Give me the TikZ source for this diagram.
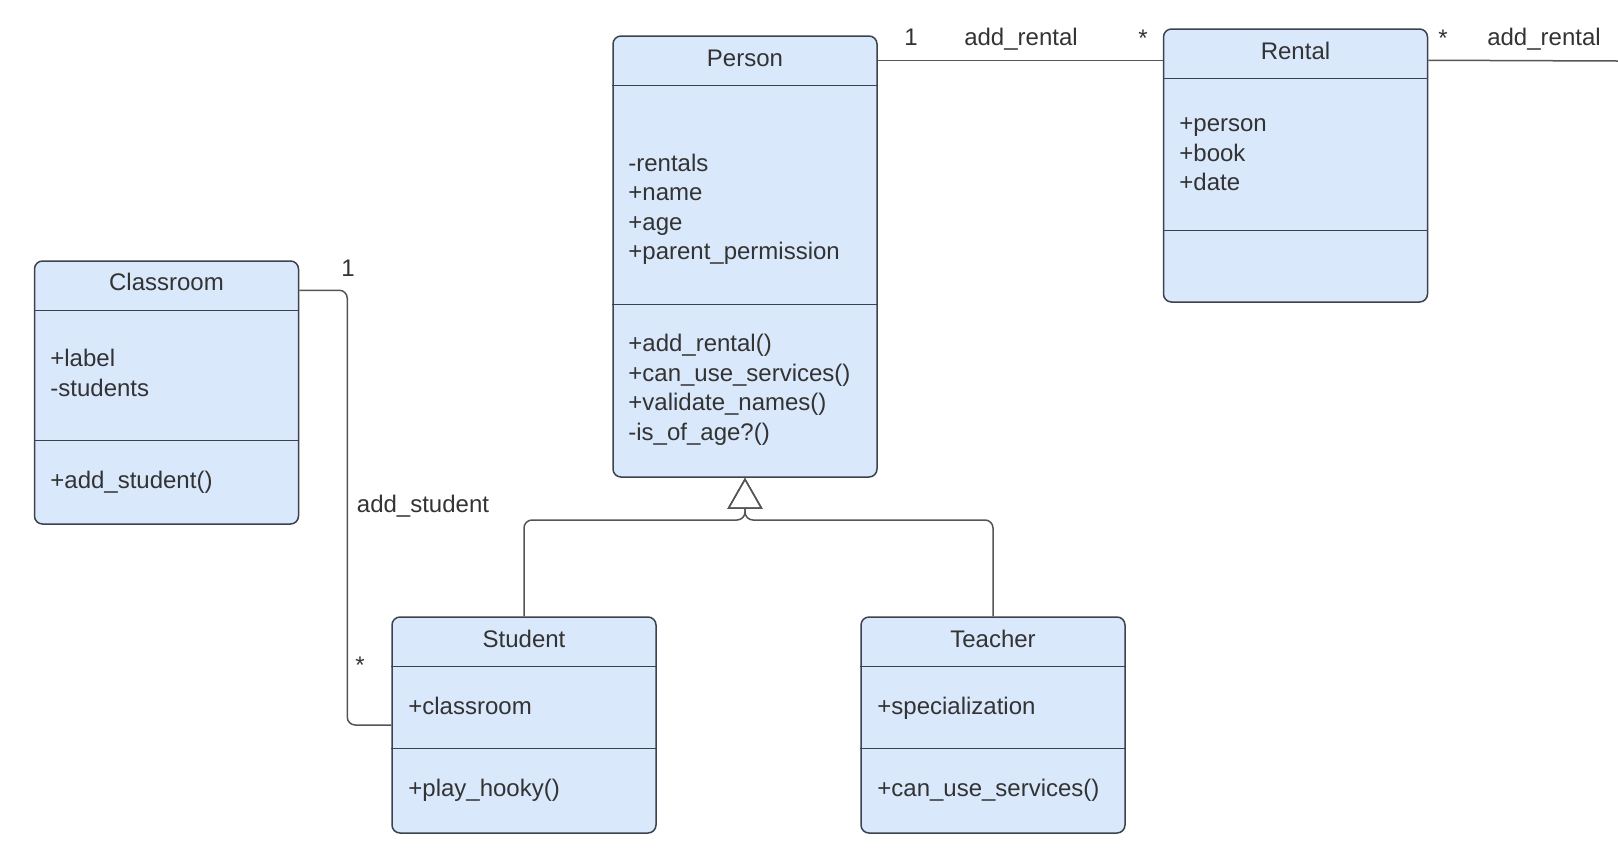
\documentclass[tikz,border=0pt]{standalone}
\usepackage{fontspec}
\setmainfont{Liberation Sans}
\usepackage{xcolor}
\usepackage{tikz}
\usetikzlibrary{arrows.meta}

\definecolor{classfill}{RGB}{218,232,252}
\definecolor{classline}{RGB}{60,66,78}
\definecolor{wireline}{RGB}{85,85,85}
\definecolor{inktext}{RGB}{51,51,51}

\begin{document}
\begin{tikzpicture}
				[x=0.5pt, y=-0.5pt,
				every node/.style = {font=\fontsize{12}{14.75}\selectfont, text=inktext},
				classbox/.style = {draw=classline, fill=classfill, line width=0.75pt, rounded corners=4pt, minimum width=132pt, inner sep=0pt},
				divider/.style = {draw=classline, line width=0.75pt},
				members/.style = {anchor=west, align=left, inner sep=0pt},
				assoc/.style = {draw=wireline, line width=0.75pt},
				generalize/.style = {assoc, rounded corners=4pt, -{Triangle[open, length=15.5pt, width=17.5pt]}}]
				\useasboundingbox (0,0) rectangle (1618,858);
				% Person
				\node[classbox, minimum height=220.5pt] (person) at (745,256.5) {};
				\draw[divider] ([yshift=-25pt]person.north west) -- ([yshift=-25pt]person.north east);
				\draw[divider] ([yshift=-134.5pt]person.north west) -- ([yshift=-134.5pt]person.north east);
				\node (personname) at (745,58) {Person};
				\node[members] (personattr) at (628,209.5) {-rentals\\+name\\+age\\+parent\_permission};
				\node[members] (personops) at (628,390) {+add\_rental()\\+can\_use\_services()\\+validate\_names()\\-is\_of\_age?()};
				% Rental
				\node[classbox, minimum height=136.5pt] (rental) at (1295.5,165.5) {};
				\draw[divider] ([yshift=-25pt]rental.north west) -- ([yshift=-25pt]rental.north east);
				\draw[divider] ([yshift=-101pt]rental.north west) -- ([yshift=-101pt]rental.north east);
				\node (rentalname) at (1295.5,51) {Rental};
				\node[members] (rentalattr) at (1179,154.5) {+person\\+book\\+date};
				% Classroom
				\node[classbox, minimum height=131.5pt] (classroom) at (166.5,392.5) {};
				\draw[divider] ([yshift=-25pt]classroom.north west) -- ([yshift=-25pt]classroom.north east);
				\draw[divider] ([yshift=-90pt]classroom.north west) -- ([yshift=-90pt]classroom.north east);
				\node (classroomname) at (166.5,282) {Classroom};
				\node[members] (classroomattr) at (50,373) {+label\\-students};
				\node[members] (classroomops) at (50,482) {+add\_student()};
				% Student
				\node[classbox, minimum height=108pt] (student) at (524,725) {};
				\draw[divider] ([yshift=-25pt]student.north west) -- ([yshift=-25pt]student.north east);
				\draw[divider] ([yshift=-66pt]student.north west) -- ([yshift=-66pt]student.north east);
				\node (studentname) at (524,639) {Student};
				\node[members] (studentattr) at (408,706) {+classroom};
				\node[members] (studentops) at (408,790) {+play\_hooky()};
				% Teacher
				\node[classbox, minimum height=108pt] (teacher) at (993,725) {};
				\draw[divider] ([yshift=-25pt]teacher.north west) -- ([yshift=-25pt]teacher.north east);
				\draw[divider] ([yshift=-66pt]teacher.north west) -- ([yshift=-66pt]teacher.north east);
				\node (teachername) at (993,639) {Teacher};
				\node[members] (teacherattr) at (877,708) {+specialization};
				\node[members] (teacherops) at (877,790) {+can\_use\_services()};
				% associations
				\coordinate (offpage) at (1618,61);
				\draw[assoc] ([yshift=-12.5pt]person.north east) -- ([yshift=-16pt]rental.north west);
				\draw[assoc] ([yshift=-16pt]rental.north east) -- (offpage);
				\draw[assoc, rounded corners=4pt] ([yshift=-15pt]classroom.north east) -- ++(24pt,0) |- (student.west);
				\node (rentalone) at (911,37) {1};
				\node (rentallink) at (1021,39) {add\_rental};
				\node (rentalmany) at (1143,38) {*};
				\node (outmany) at (1443,38) {*};
				\node (outlink) at (1544,39) {add\_rental};
				\node (classone) at (348,268) {1};
				\node (studentlink) at (423,506) {add\_student};
				\node (studentmany) at (360,665) {*};
				% inheritance
				\coordinate (joint) at (745,520);
				\draw[generalize] (student.north) |- (joint) -- (person.south);
				\draw[generalize] (teacher.north) |- (joint) -- (person.south);
			\end{tikzpicture}
\end{document}
